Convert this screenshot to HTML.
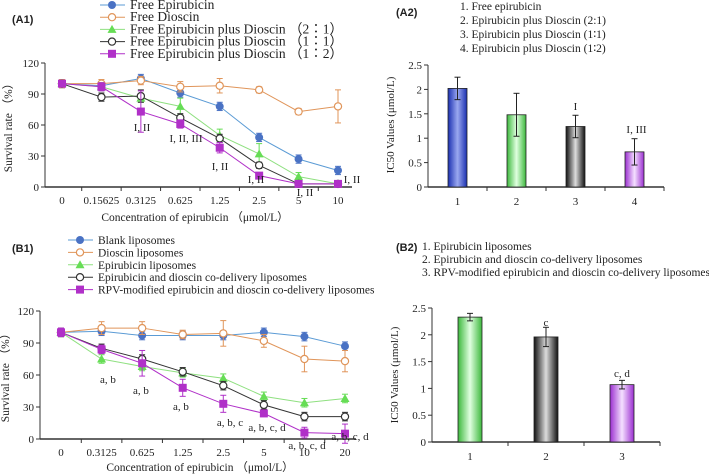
<!DOCTYPE html>
<html><head><meta charset="utf-8"><style>
html,body{margin:0;padding:0;background:#fff;}
svg{display:block;font-family:"Liberation Serif",serif;}
.pl{font-family:"Liberation Sans",sans-serif;font-weight:bold;font-size:11px;}
</style></head><body>
<svg id="s" width="709" height="476" viewBox="0 0 709 476">
<defs>
<linearGradient id="gb" x1="0" x2="1"><stop offset="0" stop-color="#1a2fb0"/><stop offset="0.5" stop-color="#9aa8f0"/><stop offset="1" stop-color="#1a2fb0"/></linearGradient>
<linearGradient id="gg" x1="0" x2="1"><stop offset="0" stop-color="#3cb83c"/><stop offset="0.5" stop-color="#e0ffe0"/><stop offset="1" stop-color="#3cb83c"/></linearGradient>
<linearGradient id="gk" x1="0" x2="1"><stop offset="0" stop-color="#111"/><stop offset="0.5" stop-color="#ddd"/><stop offset="1" stop-color="#111"/></linearGradient>
<linearGradient id="gm" x1="0" x2="1"><stop offset="0" stop-color="#9b2fd0"/><stop offset="0.5" stop-color="#f4e0ff"/><stop offset="1" stop-color="#9b2fd0"/></linearGradient>
</defs>
</svg>
<script>
// ---- A1 data ----
const a1Cats = ["0","0.15625","0.3125","0.625","1.25","2.5","5","10"];
const a1Blue = [100,98,105,91,78,48,27,16];
const a1Orange = [100,100,103,97,98,94,73,78];
const a1Green = [100,97,86,78,50,32,10,3];
const a1Black = [100,87,88,67,47,21,3,3];
const a1Mag = [100,97,73,61,38,11,3,3];
const yTicks = [0,30,60,90,120];
// ---- B1 data ----
const b1Cats = ["0","0.3125","0.625","1.25","2.5","5","10","20"];
const b1Blue = [100,101,97,97,97,100,96,87];
const b1Orange = [100,104,104,98,99,92,75,73];
const b1Green = [100,75,68,62,57,40,34,38];
const b1Black = [100,85,75,63,50,32,21,21];
const b1Mag = [100,84,71,48,33,24,6,5];
// ---- A2 data ----
const a2Cats = ["1","2","3","4"];
const a2Vals = [2.02,1.48,1.24,0.72];
const a2Errs = [0.23,0.44,0.23,0.27];
// ---- B2 data ----
const b2Cats = ["1","2","3"];
const b2Vals = [2.33,1.96,1.07];
const b2Errs = [0.07,0.18,0.08];
const icTicks = [0,0.5,1,1.5,2,2.5];

const S = document.getElementById('s');
const NS = "http://www.w3.org/2000/svg";
function mk(tag, at, parent){const e=document.createElementNS(NS,tag);for(const k in at)e.setAttribute(k,at[k]);(parent||S).appendChild(e);return e;}
function txt(x,y,s,size,anchor,name,cls){const t=mk('text',{x:x,y:y,'font-size':size||11,'text-anchor':anchor||'middle',fill:'#222'});if(cls)t.setAttribute('class',cls);t.textContent=s;


return t;}

function marker(g,type,x,y,col){
  let m;
  if(type==='dot') m=mk('circle',{cx:x,cy:y,r:4,fill:col},g);
  else if(type==='ocirc') m=mk('circle',{cx:x,cy:y,r:3.6,fill:'#fff',stroke:col,'stroke-width':1.2},g);
  else if(type==='tri') m=mk('polygon',{points:`${x},${y-4.5} ${x-4.5},${y+3.5} ${x+4.5},${y+3.5}`,fill:col},g);
  else m=mk('rect',{x:x-4,y:y-4,width:8,height:8,fill:col},g);
  return m;
}

function lineChart(opt){
  const {x0,x1,yTop,yBot,cats,series,ticks,name,catX}=opt;
  const g=mk('g',{});
  
  
  const ys=v=>yBot-(v/120)*(yBot-yTop);
  const xs=i=>catX[0]+i*(catX[1]-catX[0])/(cats.length-1);
  mk('line',{x1:x0,y1:yTop,x2:x0,y2:yBot,stroke:'#333','stroke-width':1},g);
  mk('line',{x1:x0,y1:yBot,x2:x1,y2:yBot,stroke:'#333','stroke-width':1.4},g);
  ticks.forEach(t=>{const y=ys(t);mk('line',{x1:x0-4,y1:y,x2:x0,y2:y,stroke:'#333'},g);txt(x0-6,y+4,String(t),11,'end','y-tick-label');});
  cats.forEach((c,i)=>{const x=xs(i);const bx=x+(catX[1]-catX[0])/(cats.length-1)/2;
    if(i<cats.length-1) mk('line',{x1:bx,y1:yBot,x2:bx,y2:yBot+4,stroke:'#333'},g);
    txt(x,yBot+17,c,11,'middle','x-tick-label');});
  series.forEach(s=>{
    const sg=mk('g',{},g);
    
    
    const pts=s.vals.map((v,i)=>xs(i)+','+ys(v)).join(' ');
    mk('polyline',{points:pts,fill:'none',stroke:s.lc,'stroke-width':1},sg);
    s.vals.forEach((v,i)=>{const e=(s.err||[])[i]||4;const x=xs(i);
      mk('line',{x1:x,y1:ys(v+e),x2:x,y2:ys(v-e),stroke:s.col,'stroke-width':1},sg);
      mk('line',{x1:x-3,y1:ys(v+e),x2:x+3,y2:ys(v+e),stroke:s.col},sg);
      mk('line',{x1:x-3,y1:ys(v-e),x2:x+3,y2:ys(v-e),stroke:s.col},sg);
      const m=marker(sg,s.type,x,ys(v),s.col);
      
      
    });
  });
  return {xs,ys};
}

function legend(x,y0,step,items,name,fs){
  const g=mk('g',{});
  
  
  items.forEach((it,i)=>{const y=y0+i*step;
    mk('line',{x1:x,y1:y,x2:x+25,y2:y,stroke:it.lc},g);
    marker(g,it.type,x+12,y,it.col);
    txt(x+30,y+4,it.label,fs,'start','legend-entry');});
}

// A1
txt(12,23,'(A1)',11,'start','panel-label-a1','pl');
legend(100,5,12.2,[
 {label:'Free Epirubicin',type:'dot',col:'#4a72c4',lc:'#5b9bd5'},
 {label:'Free Dioscin',type:'ocirc',col:'#e0955a',lc:'#e0955a'},
 {label:'Free Epirubicin plus Dioscin （2∶1）',type:'tri',col:'#66dd55',lc:'#8fe080'},
 {label:'Free Epirubicin plus Dioscin （1∶1）',type:'ocirc',col:'#333',lc:'#333'},
 {label:'Free Epirubicin plus Dioscin （1∶2）',type:'rect',col:'#b030c8',lc:'#b030c8'}],'legend-a1',13.5);
lineChart({x0:45,x1:352,yTop:63,yBot:187,cats:a1Cats,catX:[62,338],ticks:yTicks,name:'chart-a1',series:[
 {name:'free-epirubicin',vals:a1Blue,type:'dot',col:'#4a72c4',lc:'#5b9bd5'},
 {name:'free-dioscin',vals:a1Orange,type:'ocirc',col:'#e0955a',lc:'#e0955a',err:[4,4,4,5,7,3,3,16]},
 {name:'epi-dio-2-1',vals:a1Green,type:'tri',col:'#66dd55',lc:'#8fe080',err:[3,4,4,8,6,10,4,2]},
 {name:'epi-dio-1-1',vals:a1Black,type:'ocirc',col:'#333',lc:'#333',err:[3,4,6,4,4,3,2,2]},
 {name:'epi-dio-1-2',vals:a1Mag,type:'rect',col:'#b030c8',lc:'#b030c8',err:[3,4,20,4,5,3,2,2]}]});
const ya1=mk('text',{transform:'translate(12,125) rotate(-90)','font-size':11.5,'text-anchor':'middle',fill:'#222'});ya1.textContent='Survival rate （%）';


txt(195,221,'Concentration of epirubicin （μmol/L）',11.5,'middle','x-axis-title-a1');
[[142,131,'I, II'],[186,142,'I, II, III'],[220,170,'I, II'],[256,183,'I, II'],[305,196,'I, II'],[352,183,'I, II']].forEach(a=>txt(a[0],a[1],a[2],11,'middle','significance-label'));

// B1
txt(12,252,'(B1)',11,'start','panel-label-b1','pl');
legend(68,240,12.4,[
 {label:'Blank liposomes',type:'dot',col:'#4a72c4',lc:'#5b9bd5'},
 {label:'Dioscin liposomes',type:'ocirc',col:'#e0955a',lc:'#e0955a'},
 {label:'Epirubicin liposomes',type:'tri',col:'#66dd55',lc:'#8fe080'},
 {label:'Epirubicin and dioscin co-delivery liposomes',type:'ocirc',col:'#333',lc:'#333'},
 {label:'RPV-modified epirubicin and dioscin co-delivery liposomes',type:'rect',col:'#b030c8',lc:'#b030c8'}],'legend-b1',11.5);
lineChart({x0:40,x1:356,yTop:311,yBot:439,cats:b1Cats,catX:[61,345],ticks:yTicks,name:'chart-b1',series:[
 {name:'blank-liposomes',vals:b1Blue,type:'dot',col:'#4a72c4',lc:'#5b9bd5'},
 {name:'dioscin-liposomes',vals:b1Orange,type:'ocirc',col:'#e0955a',lc:'#e0955a',err:[4,6,6,4,12,6,12,10]},
 {name:'epirubicin-liposomes',vals:b1Green,type:'tri',col:'#66dd55',lc:'#8fe080'},
 {name:'co-delivery-liposomes',vals:b1Black,type:'ocirc',col:'#333',lc:'#333'},
 {name:'rpv-liposomes',vals:b1Mag,type:'rect',col:'#b030c8',lc:'#b030c8',err:[4,4,12,8,8,3,5,9]}]});
const yb1=mk('text',{transform:'translate(9,375) rotate(-90)','font-size':11.5,'text-anchor':'middle',fill:'#222'});yb1.textContent='Survival rate （%）';


txt(200,471,'Concentration of epirubicin （μmol/L）',11.5,'middle','x-axis-title-b1');
[[108,383,'a, b'],[141,394,'a, b'],[181,410,'a, b'],[230,426,'a, b, c'],[267,431,'a, b, c, d'],[307,449,'a, b, c, d'],[350,440,'a, b, c, d']].forEach(a=>txt(a[0],a[1],a[2],11,'middle','significance-label'));

// Bar charts
function barChart(o){
  const {x0,x1,yTop,yBot,cats,vals,errs,fills,name,bw}=o;
  const g=mk('g',{});
  
  
  const ys=v=>yBot-(v/2.5)*(yBot-yTop);
  const step=(x1-x0)/cats.length;
  const xs=i=>x0+step*(i+0.5);
  mk('line',{x1:x0,y1:yTop,x2:x0,y2:yBot,stroke:'#333'},g);
  mk('line',{x1:x0,y1:yBot,x2:x1,y2:yBot,stroke:'#333','stroke-width':1.4},g);
  icTicks.forEach(t=>{const y=ys(t);mk('line',{x1:x0-4,y1:y,x2:x0,y2:y,stroke:'#333'},g);txt(x0-6,y+4,String(t),11,'end','y-tick-label');});
  cats.forEach((c,i)=>{const x=xs(i);
    mk('line',{x1:x0+step*(i+1),y1:yBot,x2:x0+step*(i+1),y2:yBot+4,stroke:'#333'},g);
    const r=mk('rect',{x:x-bw/2,y:ys(vals[i]),width:bw,height:yBot-ys(vals[i]),fill:fills[i],stroke:'#222','stroke-width':0.8},g);
    
    
    const e=errs[i];
    mk('line',{x1:x,y1:ys(vals[i]+e),x2:x,y2:ys(vals[i]-e),stroke:'#222'},g);
    mk('line',{x1:x-3,y1:ys(vals[i]+e),x2:x+3,y2:ys(vals[i]+e),stroke:'#222'},g);
    mk('line',{x1:x-3,y1:ys(vals[i]-e),x2:x+3,y2:ys(vals[i]-e),stroke:'#222'},g);
    txt(x,yBot+18,c,11,'middle','x-tick-label');});
  return {xs,ys};
}
txt(396,16,'(A2)',11,'start','panel-label-a2','pl');
['1. Free epirubicin','2. Epirubicin plus Dioscin (2:1)','3. Epirubicin plus Dioscin (1∶1)','4. Epirubicin plus Dioscin (1∶2)'].forEach((s,i)=>txt(460,10+i*14,s,11.5,'start','legend-entry-a2'));
const a2=barChart({x0:428,x1:664,yTop:65,yBot:187,cats:a2Cats,vals:a2Vals,errs:a2Errs,fills:['url(#gb)','url(#gg)','url(#gk)','url(#gm)'],name:'chart-a2',bw:19});
const ya2=mk('text',{transform:'translate(394,125) rotate(-90)','font-size':11,'text-anchor':'middle',fill:'#222'});ya2.textContent='IC50 Values (μmol/L)';


txt(a2.xs(2),110,'I',11,'middle','significance-label');
txt(a2.xs(3)+2,133,'I, III',11,'middle','significance-label');

txt(396,251,'(B2)',11,'start','panel-label-b2','pl');
['1. Epirubicin liposomes','2. Epirubicin and dioscin co-delivery liposomes','3. RPV-modified epirubicin  and dioscin co-delivery liposomes'].forEach((s,i)=>txt(422,250+i*13,s,11.5,'start','legend-entry-b2'));
const b2=barChart({x0:432,x1:660,yTop:308,yBot:442,cats:b2Cats,vals:b2Vals,errs:b2Errs,fills:['url(#gg)','url(#gk)','url(#gm)'],name:'chart-b2',bw:24});
const yb2=mk('text',{transform:'translate(398,375) rotate(-90)','font-size':11,'text-anchor':'middle',fill:'#222'});yb2.textContent='IC50 Values (μmol/L)';


txt(b2.xs(1),326,'c',11,'middle','significance-label');
txt(b2.xs(2),377,'c, d',11,'middle','significance-label');
</script>
</body></html>
